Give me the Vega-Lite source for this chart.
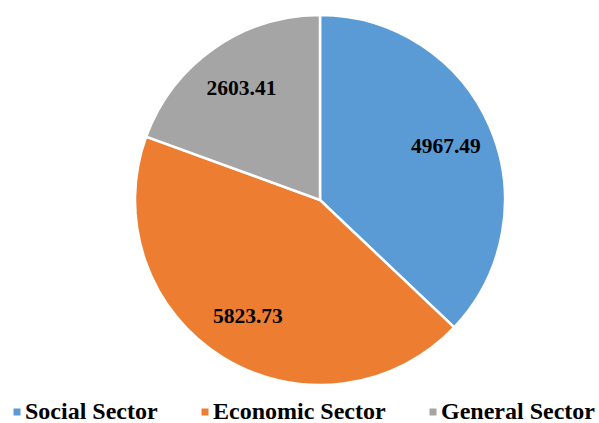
{
  "$schema": "https://vega.github.io/schema/vega-lite/v6.json",
  "width": 558,
  "height": 400,
  "autosize": {"type": "none"},
  "padding": {"left": 41, "top": 0, "right": 0, "bottom": 23},
  "background": "white",
  "config": {"view": {"stroke": null}},
  "data": {"values": [
    {"sector": "Social Sector", "value": 4967.49, "order": 1},
    {"sector": "Economic Sector", "value": 5823.73, "order": 2},
    {"sector": "General Sector", "value": 2603.41, "order": 3}
  ]},
  "encoding": {
    "theta": {"field": "value", "type": "quantitative", "stack": true},
    "order": {"field": "order", "type": "quantitative"}
  },
  "layer": [
    {
      "mark": {"type": "arc", "outerRadius": 185, "stroke": "white", "strokeWidth": 2.5},
      "encoding": {
        "color": {
          "field": "sector", "type": "nominal",
          "scale": {"domain": ["Social Sector", "Economic Sector", "General Sector"], "range": ["#5B9BD5", "#ED7D31", "#A5A5A5"]},
          "legend": {
            "title": null,
            "orient": "none",
            "direction": "horizontal",
            "legendX": -36,
            "legendY": 400,
            "symbolType": "square",
            "symbolSize": 49,
            "symbolStrokeWidth": 0,
            "labelFont": "Liberation Serif",
            "labelFontWeight": "bold",
            "labelFontSize": 24,
            "labelColor": "black",
            "labelOffset": -4,
            "columnPadding": 35,
            "labelLimit": 300
          }
        }
      }
    },
    {
      "mark": {"type": "text", "radius": 137, "dy": 1, "font": "Liberation Serif", "fontWeight": "bold", "fontSize": 21.5, "color": "black"},
      "encoding": {
        "text": {"field": "value", "type": "quantitative", "format": ".2f"}
      }
    }
  ]
}
